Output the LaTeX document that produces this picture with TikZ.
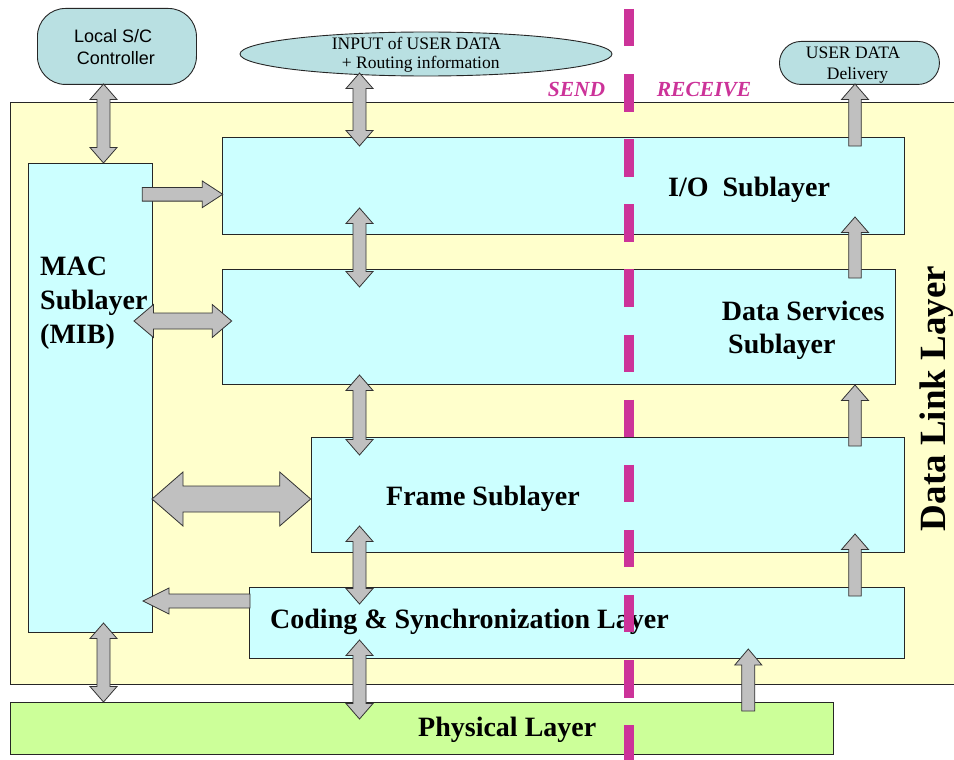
\documentclass[tikz,border=0pt]{standalone}
\usepackage{fontspec}
\setmainfont{Liberation Serif}
\newfontfamily\arialf{Liberation Sans}
\usetikzlibrary{calc,shapes.geometric}
\definecolor{yel}{RGB}{255,255,204}
\definecolor{cya}{RGB}{204,255,255}
\definecolor{grn}{RGB}{204,255,153}
\definecolor{tealb}{RGB}{185,224,226}
\definecolor{mag}{RGB}{204,51,153}
\definecolor{gry}{RGB}{192,192,192}
% double block arrow: #1 tip A, #2 tip B, #3 half shaft, #4 half head, #5 head length
\newcommand\dblarr[5]{%
  \path (#1) coordinate (ta) (#2) coordinate (tb)
    ($(ta)!#5!(tb)$) coordinate (ha) ($(tb)!#5!(ta)$) coordinate (hb);
  \draw[blk] (ta) -- ($(ha)!#4!90:(tb)$) -- ($(ha)!#3!90:(tb)$)
    -- ($(hb)!#3!-90:(ta)$) -- ($(hb)!#4!-90:(ta)$) -- (tb)
    -- ($(hb)!#4!90:(ta)$) -- ($(hb)!#3!90:(ta)$)
    -- ($(ha)!#3!-90:(tb)$) -- ($(ha)!#4!-90:(tb)$) -- cycle;}
% single block arrow: #1 tail, #2 tip
\newcommand\sglarr[5]{%
  \path (#1) coordinate (ta) (#2) coordinate (tb)
    ($(tb)!#5!(ta)$) coordinate (hb);
  \draw[blk] ($(ta)!#3!90:(tb)$) -- ($(hb)!#3!-90:(ta)$) -- ($(hb)!#4!-90:(ta)$)
    -- (tb) -- ($(hb)!#4!90:(ta)$) -- ($(hb)!#3!90:(ta)$)
    -- ($(ta)!#3!-90:(tb)$) -- cycle;}
\begin{document}
\begin{tikzpicture}[x=1pt,y=-1pt,
  box/.style={rectangle, draw=black!85, line width=0.9pt, inner sep=0pt, outer sep=0pt, anchor=north west},
  blk/.style={fill=gry, draw=black!80, line width=0.8pt, line join=miter},
  lbl/.style={inner sep=0pt, anchor=base west, font=\bfseries\fontsize{28}{30}\selectfont},
  sml/.style={inner sep=0pt, anchor=base west, font=\fontsize{17.5}{19}\selectfont},
  dir/.style={inner sep=0pt, anchor=base west, text=mag, font=\bfseries\itshape\fontsize{21.5}{22}\selectfont},
  cloud/.style={draw=black!85, line width=0.9pt, fill=tealb, inner sep=0pt}]
\useasboundingbox (0,0) rectangle (954,760);
\fill[white] (0,0) rectangle (954,760);
% layers
\node[box, fill=yel, minimum width=960pt, minimum height=582pt] (dll) at (10,102) {};
\node[box, fill=grn, minimum width=823pt, minimum height=52pt] (phy) at (10,702) {};
\node[box, fill=cya, minimum width=124pt, minimum height=469pt] (mac) at (28,163) {};
\node[box, fill=cya, minimum width=682pt, minimum height=97pt] (io) at (222,137) {};
\node[box, fill=cya, minimum width=673pt, minimum height=115pt] (ds) at (222,269) {};
\node[box, fill=cya, minimum width=593pt, minimum height=115pt] (fr) at (311,437) {};
\node[box, fill=cya, minimum width=655pt, minimum height=71pt] (cs) at (249,587) {};
% outside entities
\node[cloud, rounded corners=28pt, minimum width=159pt, minimum height=76pt, anchor=north west] (sc) at (37,8) {};
\node[cloud, ellipse, minimum width=372pt, minimum height=44pt] (inp) at (426,54) {};
\node[cloud, rounded corners=21.5pt, minimum width=160pt, minimum height=43pt, anchor=north west] (ud) at (779,41) {};
% arrow end points
\coordinate (a1t) at (103.5,84);   \coordinate (a1b) at (103.5,163);
\coordinate (a2t) at (359.5,73);   \coordinate (a2b) at (359.5,146);
\coordinate (a5t) at (359.5,208);  \coordinate (a5b) at (359.5,287);
\coordinate (a8t) at (359.5,375);  \coordinate (a8b) at (359.5,455);
\coordinate (a11t) at (359.5,526); \coordinate (a11b) at (359.5,604);
\coordinate (a15t) at (359.5,640); \coordinate (a15b) at (359.5,719);
\coordinate (a14t) at (103.5,623); \coordinate (a14b) at (103.5,702);
\coordinate (u4s) at (855,146);  \coordinate (u4e) at (855,84);
\coordinate (u6s) at (855,278);  \coordinate (u6e) at (855,217);
\coordinate (u9s) at (855,446);  \coordinate (u9e) at (855,385);
\coordinate (u12s) at (855,596); \coordinate (u12e) at (855,534);
\coordinate (u16s) at (748.3,711); \coordinate (u16e) at (748.3,649);
\coordinate (r3s) at (142.3,194.3); \coordinate (r3e) at (222.7,194.3);
\coordinate (h7l) at (134,321);   \coordinate (h7r) at (231.7,321);
\coordinate (h10l) at (152,499);  \coordinate (h10r) at (310.7,499);
\coordinate (l13s) at (250,601);  \coordinate (l13e) at (143,601);
% arrows
\dblarr{a1t}{a1b}{6.5pt}{13.5pt}{15.5pt}
\dblarr{a2t}{a2b}{6.5pt}{13.5pt}{15.5pt}
\dblarr{a5t}{a5b}{6.5pt}{13.5pt}{15.5pt}
\dblarr{a8t}{a8b}{6.5pt}{13.5pt}{15.5pt}
\dblarr{a11t}{a11b}{6.5pt}{13.5pt}{15.5pt}
\dblarr{a15t}{a15b}{6.5pt}{13.5pt}{15.5pt}
\dblarr{a14t}{a14b}{6.5pt}{13.5pt}{15.5pt}
\sglarr{u4s}{u4e}{6.3pt}{13.5pt}{15.5pt}
\sglarr{u6s}{u6e}{6.3pt}{13.5pt}{15.5pt}
\sglarr{u9s}{u9e}{6.3pt}{13.5pt}{15.5pt}
\sglarr{u12s}{u12e}{6.3pt}{13.5pt}{15.5pt}
\sglarr{u16s}{u16e}{6.5pt}{13.5pt}{16pt}
\sglarr{r3s}{r3e}{6.8pt}{13.3pt}{20.4pt}
\dblarr{h7l}{h7r}{8pt}{16.5pt}{19.5pt}
\dblarr{h10l}{h10r}{13pt}{27pt}{31pt}
\sglarr{l13s}{l13e}{7pt}{13pt}{26pt}
% texts
\node[inner sep=0pt, anchor=base west, font=\arialf\fontsize{18}{20}\selectfont] (sct1) at (74,42.3) {Local S/C};
\node[inner sep=0pt, anchor=base west, font=\arialf\fontsize{18}{20}\selectfont] (sct2) at (76.7,64.3) {Controller};
\node[sml] (inpt1) at (331.7,49.3) {INPUT of USER DATA};
\node[sml] (inpt2) at (341.7,68.3) {+ Routing information};
\node[sml] (udt1) at (805.7,58.3) {USER DATA};
\node[sml] (udt2) at (826.7,80) {Delivery};
\node[dir] (send) at (547.7,96) {SEND};
\node[dir] (recv) at (656.7,96) {RECEIVE};
\node[lbl] (iot) at (668,196) {I/O\ \ Sublayer};
\node[lbl] (dst1) at (721.7,320) {Data Services};
\node[lbl] (dst2) at (728,353) {Sublayer};
\node[lbl] (frt) at (386,505.5) {Frame Sublayer};
\node[lbl] (cst) at (270,628.5) {Coding \& Synchronization Layer};
\node[lbl] (phyt) at (418,736.5) {Physical Layer};
\node[lbl] (mact1) at (40,275) {MAC};
\node[lbl] (mact2) at (40,309) {Sublayer};
\node[lbl] (mact3) at (40,343) {(MIB)};
\node[inner sep=0pt, rotate=90, anchor=base, font=\bfseries\fontsize{37}{40}\selectfont] (dllt) at (945.5,398.5) {Data Link Layer};
% send / receive divider
\coordinate (dvt) at (629,9);
\coordinate (dvb) at (629,765);
\draw[mag, line width=10pt, dash pattern=on 37.5pt off 27.6pt] (dvt) -- (dvb);
\end{tikzpicture}
\end{document}
